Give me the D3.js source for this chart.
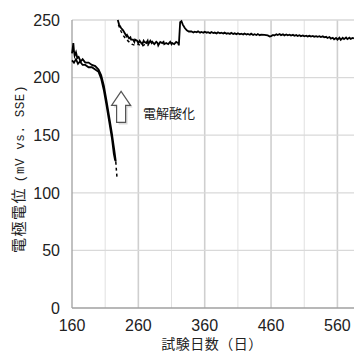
<!DOCTYPE html>
<html>
<head>
<meta charset="utf-8">
<script src="https://cdn.jsdelivr.net/npm/d3@7"></script>
<style>
  body { margin: 0; background: #fff; }
  svg { display: block; }
</style>
</head>
<body>
<div id="chart"></div>
<script>
// 試験日数 / 電極電位 readings
let xTicks = [160, 260, 360, 460, 560];
let yTicks = [0, 50, 100, 150, 200, 250];
let xGrid = [210, 260, 310, 360, 410, 460, 510, 560];

let seriesA = [[160,221],[161,225],[162,230],[163,223],[164,219],[166,222],[168,217],[170,218],[173,214],[176,216],[180,213],[185,213],[190,211],[195,210],[200,207],[204,202],[208,193],[212,180],[216,166],[220,152],[224,136],[226,127]];
let seriesB = [[160,215],[163,213],[166,216],[169,212],[172,214],[176,211],[180,211],[185,209],[190,209],[195,207],[200,205],[204,199],[208,189],[212,176],[216,162],[220,148],[223,134],[225,128]];
let tailA = [[226,127],[227,119],[228,112]];

let seriesC = [[229,250],[231,246],[234,243],[237,241],[240,238],[242,236],[243,237],[246,234],[248,235],[249,233],[252,233],[254,231],[255,233],[258,232],[260,230],[262,232],[263,231],[266,229],[268,232],[269,231],[272,230],[274,232],[275,229],[278,232],[280,230],[281,231],[284,229],[287,231],[289,230],[290,228],[293,231],[296,230],[298,231],[299,229],[302,230],[305,229],[308,231],[310,229],[311,230],[314,229],[317,231],[320,230],[321,228],
  [323,248],[325,249],[327,246],[330,243],[333,241],[336,240],
  [340,240.0],[343,239.2],[345,239.8],[348,239.3],[350,240.2],[353,239.0],[355,239.6],[358,238.9],[360,239.8],[363,239.0],[365,239.4],[368,238.6],[370,239.6],[373,238.7],[375,239.1],[378,238.4],[380,239.3],[383,238.4],[385,238.9],[388,238.2],[390,239.0],[393,238.0],[395,238.6],[398,237.9],[400,238.8],[403,237.8],[405,238.4],[408,237.7],[410,238.5],[413,237.6],[415,238.1],[418,237.4],[420,238.3],[423,237.4],[425,237.9],[428,237.2],[430,238.1],[433,237.0],[435,237.6],[438,236.9],[440,237.8],[443,236.8],[445,237.2],[450,237.0],[455,236.6],[458,235.6],[460,236.0],[463,237.0],[465,236.5],[468,237.6],[470,236.9],[473,237.8],[475,236.8],[478,237.5],[480,236.6],[483,237.4],[485,236.7],[488,237.2],[490,236.5],[493,237.1],[495,236.3],[498,236.9],[500,236.2],[503,236.8],[505,236.0],[508,236.6],[510,235.9],[513,236.4],[515,235.7],[518,236.3],[520,235.6],[523,236.2],[525,235.5],[528,236.0],[530,235.4],[533,235.9],[535,235.2],[538,235.8],[540,235.0],[543,235.4],[545,234.4],[548,235.2],[550,233.8],[553,234.6],[555,233.2],[558,234.4],[560,233.0],[563,234.6],[565,232.8],[568,234.5],[570,233.4],[573,234.8],[575,233.4],[578,234.6],[580,233.6],[583,234.4],[585,233.9]];
let seriesD = [[230,246],[234,240],[238,236],[242,233],[246,231],[250,229],[255,228],[260,229],[265,227],[270,229],[275,228]];

let width = 354;
let height = 353;

let x = d3.scaleLinear().domain([160, 585]).range([72, 354]);
let y = d3.scaleLinear().domain([0, 250]).range([308, 20]);

let svg = d3.select("#chart").append("svg")
  .attr("width", width)
  .attr("height", height);

// grid
svg.append("g").selectAll("line")
  .data(xGrid)
  .enter()
  .append("line")
  .attr("x1", d => x(d)).attr("x2", d => x(d))
  .attr("y1", y(250)).attr("y2", y(0))
  .attr("stroke", d => (d - 160) % 100 == 0 ? "#cfcfcf" : "#e0e0e0")
  .attr("stroke-width", d => (d - 160) % 100 == 0 ? 1.6 : 1);

svg.append("g").selectAll("line")
  .data(yTicks.filter(d => d > 0))
  .enter()
  .append("line")
  .attr("x1", x(160)).attr("x2", width)
  .attr("y1", d => y(d)).attr("y2", d => y(d))
  .attr("stroke", "#d9d9d9")
  .attr("stroke-width", 1.3);

// axes lines
svg.append("line")
  .attr("x1", x(160)).attr("x2", x(160))
  .attr("y1", y(250)).attr("y2", y(0))
  .attr("stroke", "#a0a0a0").attr("stroke-width", 1.3);
svg.append("line")
  .attr("x1", x(160)).attr("x2", width)
  .attr("y1", y(0)).attr("y2", y(0))
  .attr("stroke", "#a0a0a0").attr("stroke-width", 1.3);

let tickFont = "'Liberation Sans Narrow', 'Liberation Sans', Arial, sans-serif";

svg.append("g").selectAll("text")
  .data(yTicks)
  .enter()
  .append("text")
  .attr("x", 60)
  .attr("y", d => y(d))
  .attr("dy", "0.36em")
  .attr("text-anchor", "end")
  .attr("font-family", tickFont)
  .attr("font-size", 16)
  .attr("fill", "#222")
  .text(d => d);

svg.append("g").selectAll("text")
  .data(xTicks)
  .enter()
  .append("text")
  .attr("x", d => x(d))
  .attr("y", 331)
  .attr("text-anchor", "middle")
  .attr("font-family", tickFont)
  .attr("font-size", 16)
  .attr("fill", "#222")
  .text(d => d);

// titles
svg.append("text")
  .attr("x", 212)
  .attr("y", 349)
  .attr("text-anchor", "middle")
  .attr("font-family", "'Noto Sans CJK JP', sans-serif")
  .attr("font-size", 14)
  .attr("letter-spacing", 0.5)
  .attr("fill", "#222")
  .text("試験日数（日）");

let yt = svg.append("text")
  .attr("transform", "translate(24,169) rotate(-90)")
  .attr("text-anchor", "middle")
  .attr("fill", "#222");
yt.append("tspan")
  .attr("font-family", "'Noto Sans CJK JP', sans-serif")
  .attr("font-size", 15)
  .attr("letter-spacing", 1.5)
  .text("電極電位 ");
yt.append("tspan")
  .attr("font-family", "'Liberation Mono', 'DejaVu Sans Mono', monospace")
  .attr("font-size", 12.5)
  .attr("letter-spacing", 0.6)
  .text("(mV vs. SSE)");

// data lines
let line = d3.line().x(d => x(d[0])).y(d => y(d[1]));

svg.append("path").datum(seriesD)
  .attr("d", line).attr("fill", "none")
  .attr("stroke", "#000").attr("stroke-width", 1.5)
  .attr("stroke-dasharray", "3,3");
svg.append("path").datum(seriesB)
  .attr("d", line).attr("fill", "none")
  .attr("stroke", "#000").attr("stroke-width", 1.8);
svg.append("path").datum(seriesA)
  .attr("d", line).attr("fill", "none")
  .attr("stroke", "#000").attr("stroke-width", 1.8);
svg.append("path").datum(tailA)
  .attr("d", line).attr("fill", "none")
  .attr("stroke", "#000").attr("stroke-width", 1.5)
  .attr("stroke-dasharray", "3,3");
svg.append("path").datum(seriesC)
  .attr("d", line).attr("fill", "none")
  .attr("stroke", "#000").attr("stroke-width", 1.8);

// annotation arrow (電解酸化)
let ax = x(234), ay = y(188);
let arrow = `M${ax},${ay} L${ax+9.5},${ay+14} L${ax+4.5},${ay+14} L${ax+4.5},${ay+31} L${ax-4.5},${ay+31} L${ax-4.5},${ay+14} L${ax-9.5},${ay+14} Z`;
svg.append("path")
  .attr("d", arrow)
  .attr("transform", "translate(2,2)")
  .attr("fill", "#cccccc").attr("opacity", 0.7);
svg.append("path")
  .attr("d", arrow)
  .attr("fill", "#fff")
  .attr("stroke", "#555").attr("stroke-width", 1.2);

svg.append("text")
  .attr("x", 143)
  .attr("y", 118)
  .attr("font-family", "'Noto Sans CJK JP', sans-serif")
  .attr("font-size", 13)
  .attr("fill", "#222")
  .text("電解酸化");
</script>
</body>
</html>
